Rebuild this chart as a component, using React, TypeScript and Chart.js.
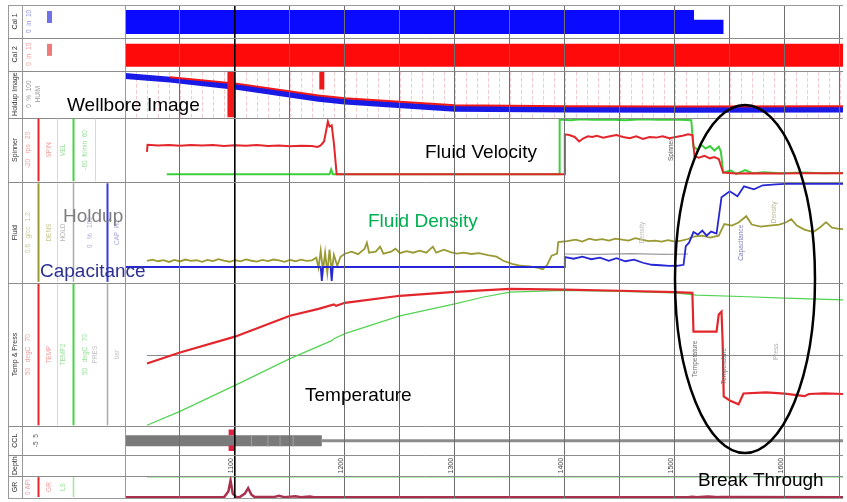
import { useEffect, useRef } from "react";
import { Chart, registerables } from "chart.js";

Chart.register(...registerables);

// ---- depth window (m) ----
const DEPTH_MIN = 1000;
const DEPTH_MAX = 1653;
const gridDepths = [1050, 1100, 1150, 1200, 1250, 1300, 1350, 1400, 1450, 1500, 1550, 1600, 1650];
const depthMarks = [1100, 1200, 1300, 1400, 1500, 1600];
const depthLabels = ["1100", "1200", "1300", "1400", "1500", "1600"];

// ---- caliper bars [depth, level %] ----
const caliperBlue = [[1000, 85], [1517.5, 85], [1517.5, 55], [1544.5, 55]];
const caliperRed = [[1000, 82], [1653, 82]];

// ---- wellbore image trace [depth, % of track] ----
const imageWater = [[1000, 89], [1041, 81], [1100, 66], [1176, 40], [1200, 34], [1300, 19], [1400, 17], [1500, 16.5], [1653, 17]];
const imageOil = [[1041, 86], [1100, 73], [1176, 47], [1200, 41], [1300, 26], [1400, 24], [1500, 23.5], [1653, 24]];
const imageFlagA = [[1096.8, 0], [1096.8, 100]];
const imageFlagB = [[1179, 60], [1179, 100]];

// ---- fluid velocity [depth, %] ----
const spinnerVelocity = [
  [1020, 47], [1020.5, 58], [1030, 57], [1040, 57.5], [1050, 56.5], [1060, 57.5], [1070, 57], [1080, 57.7],
  [1090, 56.2], [1100, 57.2], [1110, 56.5], [1120, 57.5], [1130, 56.2], [1140, 56.9], [1150, 55.8], [1160, 56.5],
  [1170, 56.2], [1175, 54.6], [1178, 57], [1181, 63], [1183, 80], [1184.5, 94], [1186, 86], [1188, 88], [1190, 60],
  [1192.5, 12.3], [1250, 12.3], [1300, 12.3], [1350, 12.3], [1399.5, 12.3], [1400, 74], [1404, 73], [1409, 70],
  [1413, 63], [1417, 68], [1421, 71], [1425, 70], [1429, 72], [1435, 69], [1441, 71], [1447, 73], [1453, 70],
  [1459, 68], [1465, 71], [1471, 67], [1477, 70], [1483, 69], [1489, 71], [1495, 68], [1501, 70], [1507, 72],
  [1512, 74], [1516, 73], [1518, 40], [1522, 38], [1527, 41], [1532, 37], [1536, 39], [1540, 36], [1544, 15],
  [1555, 13.5], [1575, 14], [1595, 13.5], [1615, 14], [1635, 13.8], [1653, 13.8],
];
const apparentVelocity = [
  [1038, 12.3], [1100, 12.3], [1186, 12.3], [1187.5, 20], [1189, 12.3], [1300, 12.3], [1395, 12.3], [1395.3, 97],
  [1405, 96], [1415, 97.5], [1425, 96.5], [1440, 97], [1455, 96], [1470, 97.5], [1485, 96.5], [1500, 97], [1515, 96],
  [1517, 55], [1521, 50], [1524, 58], [1528, 52], [1532, 56], [1536, 49], [1540, 55], [1542, 47], [1544, 15],
  [1551, 18], [1556, 13], [1564, 19], [1571, 14], [1581, 15.5], [1596, 14], [1616, 15], [1636, 14], [1653, 14.5],
];

// ---- fluid density / holdup / capacitance [depth, %] ----
const fluidDensity = [
  [1020, 21.8], [1025, 23], [1030, 21.5], [1035, 22.5], [1040, 20.8], [1045, 22.8], [1050, 21.3], [1055, 23.2],
  [1060, 21.8], [1065, 22.5], [1070, 20.9], [1075, 22.9], [1080, 21.6], [1085, 23.5], [1090, 22.1], [1095, 21],
  [1100, 22.6], [1105, 21.4], [1110, 23.3], [1115, 22], [1120, 21.1], [1125, 22.9], [1130, 21.6], [1135, 23.2],
  [1140, 22.4], [1145, 21], [1150, 22.8], [1155, 21.5], [1160, 23], [1165, 21.8], [1170, 22.4], [1174, 25],
  [1176, 15], [1178, 32], [1180, 12], [1182, 30], [1184, 10], [1186, 33], [1188, 11], [1190, 28], [1193, 17],
  [1196, 26], [1200, 29], [1206, 31], [1212, 28.5], [1218, 34], [1220, 40], [1222, 30], [1228, 31], [1232, 36],
  [1235, 29], [1242, 31], [1246, 34], [1250, 29.5], [1256, 31.5], [1262, 30], [1268, 32], [1274, 30], [1280, 36],
  [1283, 30], [1290, 33], [1296, 30.5], [1302, 29], [1308, 30], [1315, 28.7], [1322, 29.5], [1330, 27.5],
  [1338, 26], [1344, 22], [1352, 19], [1360, 17], [1368, 16.5], [1376, 15], [1380, 13.5], [1384, 18], [1388, 27],
  [1393, 29], [1394, 40.6], [1402, 41.5], [1410, 43], [1416, 41], [1422, 44], [1428, 42.5], [1434, 43.5],
  [1440, 42], [1446, 44], [1452, 43], [1458, 42], [1464, 44.5], [1470, 43], [1476, 41.5], [1482, 42], [1488, 41],
  [1494, 42.5], [1500, 41], [1506, 42], [1512, 43.6], [1517, 46], [1525, 47], [1532, 45], [1540, 47], [1545, 58.4],
  [1552, 57], [1558, 60], [1565, 66.3], [1570, 58], [1578, 56], [1586, 57], [1595, 58], [1601, 60], [1606, 63.4],
  [1611, 57], [1618, 53], [1626, 50.5], [1632, 55], [1637.6, 60.4], [1643, 55], [1648, 54], [1653, 53.5],
];
const waterHoldup = [[1400, 28.7], [1430, 28.4], [1460, 29], [1490, 28.3], [1512, 28.7]];
const capacitance = [
  [1000, 15.8], [1178, 15.8], [1179, 2], [1180, 15.8], [1187, 15.8], [1188, 2], [1189, 15.8], [1399.5, 15.8],
  [1400, 25.7], [1408, 24], [1416, 26], [1424, 23.5], [1432, 25], [1440, 22], [1447, 24.5], [1455, 21.5],
  [1463, 23], [1471, 20], [1479, 18], [1487, 17.5], [1495, 16.8], [1502, 17], [1508, 18], [1510, 36.6], [1513, 40],
  [1517, 50.5], [1521, 48], [1525, 52], [1529, 47], [1533, 51], [1538, 49], [1542.5, 85], [1550, 91], [1557, 86],
  [1563, 96], [1572, 93], [1580, 97], [1592, 98], [1600, 98.5], [1653, 98.5],
];

// ---- temperature [depth, %] ----
const flowingTemp = [
  [1020, 43.75], [1050, 51.5], [1100, 62.5], [1150, 77.1], [1176, 81.9], [1190, 85], [1192, 84], [1200, 86.1],
  [1250, 91], [1300, 93.75], [1350, 95.8], [1400, 95.3], [1450, 94.5], [1500, 93.5], [1516, 93], [1517, 66],
  [1538, 66], [1540, 78], [1542.5, 80], [1543.5, 60], [1544.5, 20.8], [1550, 18], [1558, 15.3], [1562.5, 22.9],
  [1583, 23.6], [1600, 22.8], [1618, 21], [1622, 22.5], [1636, 23], [1653, 22.5],
];
const shutInTemp = [
  [1020, 0.7], [1050, 10.4], [1100, 28.5], [1150, 47.2], [1188, 59.7], [1190, 61], [1200, 64.6], [1250, 77],
  [1300, 85.4], [1325, 90], [1350, 93.5], [1400, 94.8], [1450, 94], [1500, 93], [1520, 91.5], [1560, 90.5],
  [1600, 89.3], [1653, 88.2],
];

// ---- collar locator / gamma ray ----
const cclPass = [[1000, 50], [1179, 50]];
const cclCable = [[1179, 50], [1653, 50]];
const cclCollars = [[1115, 30], [1115, 70], [1115, null], [1130, 30], [1130, 70], [1130, null], [1141, 30], [1141, 70], [1141, null], [1153, 30], [1153, 70]];
const cclMarker = [[1096.8, 79], [1096.8, 24]];
const grBaseline = [[1020, 95], [1653, 95]];
const gammaRay = [
  [1000, 3], [1090, 3], [1094, 30], [1096, 80], [1098, 20], [1101, 5], [1104, 3], [1109, 20], [1112, 45],
  [1115, 15], [1118, 4], [1135, 4], [1140, 10], [1145, 4], [1155, 8], [1160, 4], [1168, 7], [1172, 3],
  [1512, 3], [1516, 6], [1520, 4], [1530, 7], [1540, 4], [1653, 3],
];

// ---- track layout (top to bottom, pixel heights) ----
const TRACKS = [
  { id: "yCal1", h: 33 },
  { id: "yCal2", h: 33 },
  { id: "yImage", h: 47 },
  { id: "yVel", h: 65 },
  { id: "yDens", h: 101 },
  { id: "yTemp", h: 144 },
  { id: "yCcl", h: 29 },
  { id: "yDepth", h: 21 },
  { id: "yGr", h: 22 },
];

const FONT = '"Liberation Sans", Arial, sans-serif';
const HEADER_LEFT = 8;

const pts = (arr: (number | null)[][]) => arr.map(([x, y]) => ({ x, y }));

function trace(axis: string, arr: (number | null)[][], color: string, width: number, extra: any = {}) {
  return {
    type: "line",
    yAxisID: axis,
    data: pts(arr),
    borderColor: color,
    backgroundColor: color,
    borderWidth: width,
    pointRadius: 0,
    fill: false,
    tension: 0,
    spanGaps: false,
    ...extra,
  };
}

function vText(ctx: CanvasRenderingContext2D, text: string, x: number, y: number, color: string, size = 7) {
  ctx.save();
  ctx.translate(x, y);
  ctx.rotate(-Math.PI / 2);
  ctx.font = `${size}px ${FONT}`;
  ctx.fillStyle = color;
  ctx.textAlign = "center";
  ctx.textBaseline = "middle";
  ctx.fillText(text, 0, 0);
  ctx.restore();
}

function hLine(ctx: CanvasRenderingContext2D, x1: number, x2: number, y: number) {
  ctx.beginPath();
  ctx.moveTo(x1, Math.round(y) + 0.5);
  ctx.lineTo(x2, Math.round(y) + 0.5);
  ctx.stroke();
}

function vLine(ctx: CanvasRenderingContext2D, x: number, y1: number, y2: number) {
  ctx.beginPath();
  ctx.moveTo(Math.round(x) + 0.5, y1);
  ctx.lineTo(Math.round(x) + 0.5, y2);
  ctx.stroke();
}

// curve-scale columns of the header, per track
const HEADER_CURVES: Record<string, { x: number; color: string; w: number }[]> = {
  yVel: [{ x: 38, color: "#e8262b", w: 2 }, { x: 57, color: "#d8d8d8", w: 1 }, { x: 73, color: "#44d444", w: 2 }, { x: 95, color: "#d8d8d8", w: 1 }],
  yDens: [{ x: 38, color: "#9a9a35", w: 2 }, { x: 57, color: "#d8d8d8", w: 1 }, { x: 73, color: "#a9a9a9", w: 1.5 }, { x: 107, color: "#3a3ad8", w: 2 }],
  yTemp: [{ x: 38, color: "#e8262b", w: 2 }, { x: 57, color: "#d8d8d8", w: 1 }, { x: 73, color: "#44d444", w: 2 }, { x: 107, color: "#a9a9a9", w: 1.5 }],
  yGr: [{ x: 38, color: "#e8262b", w: 2 }, { x: 73, color: "#9fe69f", w: 1.5 }],
};

const HEADER_TITLES: Record<string, string> = {
  yCal1: "Cal 1",
  yCal2: "Cal 2",
  yImage: "Holdup Image",
  yVel: "Spinner",
  yDens: "Fluid",
  yTemp: "Temp & Press",
  yCcl: "CCL",
  yDepth: "Depth",
  yGr: "GR",
};

const HEADER_SCALES: Record<string, { x: number; text: string; color: string }[]> = {
  yCal1: [{ x: 29, text: "0  in  10", color: "#8c8cf0" }],
  yCal2: [{ x: 29, text: "0  in  10", color: "#f29a9a" }],
  yImage: [{ x: 29, text: "0  %  100", color: "#9a9a9a" }, { x: 38, text: "HUIM", color: "#9a9a9a" }],
  yVel: [
    { x: 28, text: "-20   rps   20", color: "#f0a0a0" },
    { x: 49, text: "SPIN", color: "#f0a0a0" },
    { x: 63, text: "VEL", color: "#98e098" },
    { x: 85, text: "-60  ft/min  60", color: "#98e098" },
  ],
  yDens: [
    { x: 28, text: "0.6   g/cc   1.2", color: "#c8c890" },
    { x: 49, text: "DENS", color: "#c8c890" },
    { x: 63, text: "HOLD", color: "#b8b8b8" },
    { x: 90, text: "0   %   100", color: "#a8a8e0" },
    { x: 117, text: "CAP  Hz", color: "#a8a8e0" },
  ],
  yTemp: [
    { x: 28, text: "50   degC   70", color: "#f0a0a0" },
    { x: 49, text: "TEMP", color: "#f0a0a0" },
    { x: 63, text: "TEMP2", color: "#98e098" },
    { x: 85, text: "50   degC   70", color: "#98e098" },
    { x: 95, text: "PRES", color: "#c0c0c0" },
    { x: 117, text: "bar", color: "#c0c0c0" },
  ],
  yCcl: [{ x: 36, text: "-5  5", color: "#555" }],
  yGr: [{ x: 28, text: "0 API", color: "#f0a0a0" }, { x: 49, text: "GR", color: "#f0a0a0" }, { x: 63, text: "LS", color: "#98e098" }],
};

// call-out labels over the log
const CALLOUTS = [
  { text: "Wellbore Image", x: 67, y: 111, color: "#000000" },
  { text: "Fluid Velocity", x: 425, y: 158, color: "#000000" },
  { text: "Fluid Density", x: 368, y: 227, color: "#00b050" },
  { text: "Holdup", x: 63, y: 222, color: "#7f7f7f" },
  { text: "Capacitance", x: 40, y: 277, color: "#2e3192" },
  { text: "Temperature", x: 305, y: 401, color: "#000000" },
  { text: "Break Through", x: 698, y: 486, color: "#000000" },
];

// small curve tags written inside the tracks
const CURVE_TAGS = [
  { axis: "yVel", depth: 1497, value: 50, text: "Spinner", color: "#555" },
  { axis: "yDens", depth: 1470, value: 50, text: "Density", color: "#bbb" },
  { axis: "yDens", depth: 1560, value: 40, text: "Capacitance", color: "#7a7ab8" },
  { axis: "yDens", depth: 1590, value: 70, text: "Density", color: "#b8b890" },
  { axis: "yTemp", depth: 1519, value: 47, text: "Temperature", color: "#666" },
  { axis: "yTemp", depth: 1545, value: 42, text: "Temperature", color: "#666" },
  { axis: "yTemp", depth: 1592, value: 52, text: "Press", color: "#aaa" },
];

const logFrame = {
  id: "logFrame",
  beforeDatasetsDraw(chart: any) {
    const ctx: CanvasRenderingContext2D = chart.ctx;
    const xs = chart.scales.x;
    const img = chart.scales.yImage;
    const temp = chart.scales.yTemp;
    ctx.save();
    // raster of the image track
    ctx.strokeStyle = "rgba(225,140,150,0.45)";
    ctx.lineWidth = 1;
    ctx.setLineDash([4, 2]);
    for (let d = DEPTH_MIN + 10; d < DEPTH_MAX; d += 10) {
      vLine(ctx, xs.getPixelForValue(d), img.top + 1, img.bottom);
    }
    ctx.setLineDash([]);
    // temperature mid-scale line
    ctx.strokeStyle = "#8a8a8a";
    hLine(ctx, xs.getPixelForValue(1020), chart.chartArea.right, temp.getPixelForValue(50));
    ctx.restore();
  },
  afterDraw(chart: any) {
    const ctx: CanvasRenderingContext2D = chart.ctx;
    const area = chart.chartArea;
    const xs = chart.scales.x;
    ctx.save();

    // header frame and track separators
    ctx.strokeStyle = "#9a9a9a";
    ctx.lineWidth = 1;
    hLine(ctx, HEADER_LEFT, area.right, area.top);
    hLine(ctx, HEADER_LEFT, area.right, area.bottom);
    vLine(ctx, HEADER_LEFT, area.top, area.bottom);
    vLine(ctx, 22, area.top, area.bottom);
    vLine(ctx, area.left, area.top, area.bottom);
    TRACKS.slice(0, -1).forEach((t) => {
      ctx.strokeStyle = "#8c8c8c";
      hLine(ctx, HEADER_LEFT, area.right, chart.scales[t.id].bottom);
    });

    // header contents
    TRACKS.forEach((t) => {
      const sc = chart.scales[t.id];
      const mid = (sc.top + sc.bottom) / 2;
      (HEADER_CURVES[t.id] || []).forEach((c) => {
        ctx.strokeStyle = c.color;
        ctx.lineWidth = c.w;
        vLine(ctx, c.x, sc.top + 1, sc.bottom - 1);
      });
      vText(ctx, HEADER_TITLES[t.id], 15, mid, "#333", 7);
      (HEADER_SCALES[t.id] || []).forEach((s) => vText(ctx, s.text, s.x, mid, s.color, 6.5));
    });
    // caliper swatches
    ctx.fillStyle = "#7070e8";
    const c1 = chart.scales.yCal1;
    ctx.fillRect(47, c1.top + 6, 5, 12);
    ctx.fillStyle = "#f07a7a";
    const c2 = chart.scales.yCal2;
    ctx.fillRect(47, c2.top + 6, 5, 12);

    // depth numbers
    const dep = chart.scales.yDepth;
    depthMarks.forEach((d, i) => {
      vText(ctx, depthLabels[i], xs.getPixelForValue(d) - 3.5, (dep.top + dep.bottom) / 2, "#444", 7);
    });

    // curve tags
    CURVE_TAGS.forEach((tg) => {
      vText(ctx, tg.text, xs.getPixelForValue(tg.depth), chart.scales[tg.axis].getPixelForValue(tg.value), tg.color, 6.5);
    });

    // call-outs
    ctx.font = `19px ${FONT}`;
    ctx.textAlign = "left";
    ctx.textBaseline = "alphabetic";
    CALLOUTS.forEach((c) => {
      ctx.fillStyle = c.color;
      ctx.fillText(c.text, c.x, c.y);
    });

    // break-through ring
    ctx.strokeStyle = "#000";
    ctx.lineWidth = 2.5;
    ctx.beginPath();
    ctx.ellipse(745, 279, 70, 174, 0, 0, Math.PI * 2);
    ctx.stroke();
    ctx.restore();
  },
};

function buildConfig(): any {
  // back-to-front paint order; reversed below because Chart.js paints dataset 0 last
  const layers = [
    trace("yCal1", caliperBlue, "#0a0aff", 0, { fill: { value: 12 }, backgroundColor: "#0a0aff" }),
    trace("yCal2", caliperRed, "#ff0a0a", 0, { fill: { value: 12 }, backgroundColor: "#ff0a0a" }),
    trace("yImage", imageWater, "#1a1ae6", 6),
    trace("yImage", imageOil, "#f01818", 2),
    trace("yImage", imageFlagA, "#f01818", 8, { borderCapStyle: "butt" }),
    trace("yImage", imageFlagB, "#f01818", 5, { borderCapStyle: "butt" }),
    trace("yVel", apparentVelocity, "#3ccf3c", 2),
    trace("yVel", spinnerVelocity, "#e3262b", 2),
    trace("yDens", waterHoldup, "#9c9c9c", 1.2),
    trace("yDens", fluidDensity, "#9a9a35", 1.8),
    trace("yDens", capacitance, "#2626d4", 1.8),
    trace("yTemp", shutInTemp, "#52d452", 1.2),
    trace("yTemp", flowingTemp, "#e3262b", 2.2),
    trace("yCcl", cclPass, "#7a7a7a", 11, { borderCapStyle: "butt" }),
    trace("yCcl", cclCable, "#8c8c8c", 3, { borderCapStyle: "butt" }),
    trace("yCcl", cclCollars, "#a0a0a0", 1),
    trace("yCcl", cclMarker, "#e02040", 0, { showLine: false, pointRadius: 4, pointStyle: "rect", pointBorderWidth: 0 }),
    trace("yGr", grBaseline, "#8fe08f", 1),
    trace("yGr", gammaRay, "#a8324e", 2.5),
  ];

  const scales: any = {
    x: {
      type: "linear",
      position: "bottom",
      min: DEPTH_MIN,
      max: DEPTH_MAX,
      afterBuildTicks: (scale: any) => {
        scale.ticks = gridDepths.map((v) => ({ value: v }));
      },
      ticks: { display: false },
      border: { display: false },
      grid: {
        z: 1,
        drawTicks: false,
        color: (c: any) => (c.tick && c.tick.value === 1100 ? "#000000" : "#6e6e6e"),
        lineWidth: (c: any) => (c.tick && c.tick.value === 1100 ? 1.6 : 1),
      },
    },
  };
  TRACKS.forEach((t) => {
    scales[t.id] = {
      type: "linear",
      position: "right",
      stack: "log",
      stackWeight: t.h,
      min: 0,
      max: 100,
      display: false,
    };
  });

  return {
    type: "line",
    data: { datasets: layers.reverse() },
    options: {
      responsive: false,
      animation: false,
      events: [],
      layout: { padding: { left: 125, top: 5, right: 0, bottom: 2 } },
      plugins: { legend: { display: false }, tooltip: { enabled: false } },
      scales,
    },
    plugins: [logFrame],
  };
}

export default function App() {
  const ref = useRef<HTMLCanvasElement>(null);
  useEffect(() => {
    document.body.style.margin = "0";
    const chart = new Chart(ref.current as HTMLCanvasElement, buildConfig());
    return () => chart.destroy();
  }, []);
  return <canvas ref={ref} width={847} height={502} style={{ display: "block" }} />;
}
